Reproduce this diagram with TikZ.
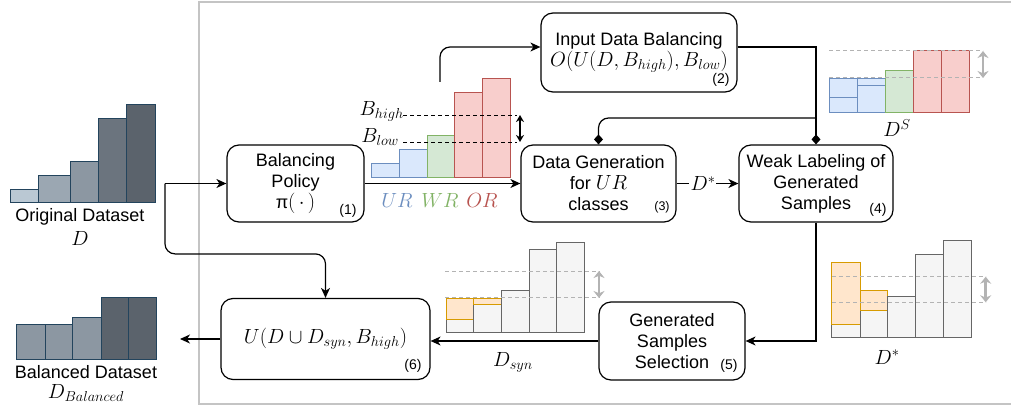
\RequirePackage{fix-cm}
\documentclass[tikz,border=0pt]{standalone}
\usepackage{fontspec}
\setmainfont{Liberation Sans}
\usetikzlibrary{arrows.meta,calc}
\newcommand\mth[1]{\scalebox{1.14}{$#1$}}
\definecolor{odS}{HTML}{23445D}
\definecolor{odA}{HTML}{BAC8D3}
\definecolor{odB}{HTML}{9BA7B2}
\definecolor{odC}{HTML}{8C97A2}
\definecolor{odD}{HTML}{6B747E}
\definecolor{odE}{HTML}{5B636C}
\definecolor{blF}{HTML}{DAE8FC}
\definecolor{blS}{HTML}{6C8EBF}
\definecolor{grF}{HTML}{D5E8D4}
\definecolor{grS}{HTML}{82B366}
\definecolor{rdF}{HTML}{F8CECC}
\definecolor{rdS}{HTML}{B85450}
\definecolor{orF}{HTML}{FFE6CC}
\definecolor{orS}{HTML}{D79B00}
\definecolor{gyF}{HTML}{F5F5F5}
\definecolor{gyS}{HTML}{666666}
\definecolor{frm}{HTML}{C4C4C4}
\definecolor{gdl}{HTML}{B3B3B3}
\begin{document}
\begin{tikzpicture}[x=1pt,y=-1pt,font=\fontsize{18}{21}\selectfont,
  box/.style={draw,line width=1.2pt,rounded corners=12pt,align=center,inner sep=0pt},
  num/.style={font=\fontsize{14}{16}\selectfont,inner sep=0pt},
  lbl/.style={inner sep=0pt},
  conn/.style={line width=1.2pt},
  arr/.style={line width=1.2pt,-{Stealth[length=10pt,width=9pt,inset=3pt]}},
  diam/.style={line width=1.2pt,-{Diamond[length=10pt,width=9pt]}},
  bar/.style={line width=1pt},
  gdash/.style={draw=gdl,line width=1pt,dash pattern=on 4pt off 3pt},
  bdash/.style={draw=black,line width=0.9pt,dash pattern=on 4pt off 3pt},
  garr/.style={draw=gdl,line width=2.5pt,{Stealth[length=7pt,width=11pt]}-{Stealth[length=7pt,width=11pt]}},
  barr/.style={line width=1.3pt,{Stealth[length=7pt,width=8pt]}-{Stealth[length=7pt,width=8pt]}}]
\useasboundingbox (0,0) rectangle (1011,409);
% frame
\draw[frm,line width=1.5pt] (199,2) rectangle (1020,404);

% original dataset bars
\draw[bar,draw=odS,fill=odA] (10,189) rectangle (38,202.7);
\draw[bar,draw=odS,fill=odB] (38,175) rectangle (70,202.7);
\draw[bar,draw=odS,fill=odC] (70,161) rectangle (98,202.7);
\draw[bar,draw=odS,fill=odD] (98,119) rectangle (126,202.7);
\draw[bar,draw=odS,fill=odE] (126,105) rectangle (155,202.7);
\node[lbl] (odtext) at (80,217) {Original Dataset};
\node[lbl] (odD) at (80,238) {\mth{D}};

% balanced dataset bars
\draw[bar,draw=odS,fill=odC] (16.7,324.3) rectangle (45,359);
\draw[bar,draw=odS,fill=odC] (45,324.3) rectangle (72.7,359);
\draw[bar,draw=odS,fill=odC] (72.7,317.3) rectangle (101,359);
\draw[bar,draw=odS,fill=odE] (101,297.7) rectangle (128.3,359);
\draw[bar,draw=odS,fill=odE] (128.3,297.7) rectangle (156.7,359);
\node[lbl] (bdtext) at (86,372) {Balanced Dataset};
\node[lbl] (bdD) at (86,393) {\mth{D_{Balanced}}};

% boxes
\node[box,minimum width=137pt,minimum height=77pt] (b1) at (295.5,183.5) {Balancing\\Policy\\π\mth{(\,\cdot\,)}};
\node[num] (n1) at (348,211) {(1)};
\node[box,minimum width=196pt,minimum height=79pt] (b2) at (639,52.5) {Input Data Balancing\\\mth{O(U(D,B_{high}),B_{low})}};
\node[num] (n2) at (721,80) {(2)};
\node[box,minimum width=155pt,minimum height=77pt] (b3) at (598.5,183.5) {Data Generation\\for \mth{UR}\\classes};
\node[num,font=\fontsize{12.5}{14}\selectfont] (n3) at (662,207) {(3)};
\node[box,minimum width=154pt,minimum height=77pt] (b4) at (816,183.5) {Weak Labeling of\\Generated\\Samples};
\node[num] (n4) at (878,210) {(4)};
\node[box,minimum width=146pt,minimum height=78pt] (b5) at (672,341) {Generated\\Samples\\Selection};
\node[num] (n5) at (729,366) {(5)};
\node[box,minimum width=209pt,minimum height=81pt] (b6) at (325.5,339) {\mth{U(D\cup D_{syn},B_{high})}};
\node[num] (n6) at (413,366) {(6)};

% middle bars (UR/WR/OR)
\draw[bar,draw=blS,fill=blF] (371,163) rectangle (399,177);
\draw[bar,draw=blS,fill=blF] (399,149) rectangle (427,177);
\draw[bar,draw=grS,fill=grF] (427,135) rectangle (454.5,177);
\draw[bar,draw=rdS,fill=rdF] (454.5,93) rectangle (482,177);
\draw[bar,draw=rdS,fill=rdF] (482,79) rectangle (510,177);
\draw[bdash] (403,115) -- (517,115);
\draw[bdash] (403,142) -- (517,142);
\node[lbl,anchor=east] (bh) at (404,111) {\mth{B_{high}}};
\node[lbl,anchor=east] (bl) at (399,137) {\mth{B_{low}}};
\draw[barr] (520,115) -- (520,142);
\node[lbl,text=blS] (ur) at (397,200) {\mth{UR}};
\node[lbl,text=grS] (wr) at (440,200) {\mth{WR}};
\node[lbl,text=rdS] (or) at (482,200) {\mth{OR}};

% D^S bars
\draw[bar,draw=blS,fill=blF] (829,98) rectangle (857,113);
\draw[bar,draw=blS,fill=blF] (829,79) rectangle (857,98);
\draw[bar,draw=blS,fill=blF] (857,86) rectangle (885,113);
\draw[bar,draw=blS,fill=blF] (857,79) rectangle (885,86);
\draw[bar,draw=grS,fill=grF] (885,71) rectangle (913,113);
\draw[bar,draw=rdS,fill=rdF] (913,51) rectangle (941,113);
\draw[bar,draw=rdS,fill=rdF] (941,51) rectangle (969,113);
\draw[gdash] (829,51) -- (983,51);
\draw[gdash] (829,78) -- (983,78);
\draw[garr] (983,51) -- (983,78);
\node[lbl] (ds) at (897,128) {\mth{D^S}};

% D_syn bars
\draw[bar,draw=gyS,fill=gyF] (446.7,319) rectangle (473.3,332.3);
\draw[bar,draw=orS,fill=orF] (446.7,298) rectangle (473.3,319);
\draw[bar,draw=gyS,fill=gyF] (473.3,304.7) rectangle (501.7,332.3);
\draw[bar,draw=orS,fill=orF] (473.3,298) rectangle (501.7,304.7);
\draw[bar,draw=gyS,fill=gyF] (501.7,290.7) rectangle (529.3,332.3);
\draw[bar,draw=gyS,fill=gyF] (529.3,249) rectangle (556.7,332.3);
\draw[bar,draw=gyS,fill=gyF] (556.7,242) rectangle (584.3,332.3);
\draw[gdash] (445,271) -- (600,271);
\draw[gdash] (445,297.7) -- (600,297.7);
\draw[garr] (599,271) -- (599,298);
\node[lbl] (dsyn) at (513,362) {\mth{D_{syn}}};

% D* bars
\draw[bar,draw=gyS,fill=gyF] (831.7,324) rectangle (860,337.7);
\draw[bar,draw=orS,fill=orF] (831.7,262.7) rectangle (860,324);
\draw[bar,draw=gyS,fill=gyF] (860,310) rectangle (887.7,337.7);
\draw[bar,draw=orS,fill=orF] (860,290.7) rectangle (887.7,310);
\draw[bar,draw=gyS,fill=gyF] (887.7,296) rectangle (915.7,337.7);
\draw[bar,draw=gyS,fill=gyF] (915.7,254.3) rectangle (943.3,337.7);
\draw[bar,draw=gyS,fill=gyF] (943.3,240.7) rectangle (971,337.7);
\draw[gdash] (832,276.7) -- (986,276.7);
\draw[gdash] (832,302.3) -- (986,302.3);
\draw[garr] (985.7,276.7) -- (985.7,302.3);
\node[lbl] (dstar) at (887,357) {\mth{D^{*}}};

% connectors
\coordinate (split) at (165,183.5);
\coordinate (up) at (440,82);
\coordinate (j) at (816,118);
\coordinate (out) at (180,339);
\draw[arr] (split) -- (b1.west);
\draw[arr,rounded corners=10pt] (split) |- ($(b6.north)+(0,-44)$) -- (b6.north);
\draw[arr] (b1.east) -- (b3.west);
\draw[arr,rounded corners=10pt] (up) |- (b2.west |- 0,47);
\draw[diam] (b2.east |- 0,47) -| (b4.north);
\draw[diam,rounded corners=10pt] (j) -| (b3.north);
\draw[conn] (b3.east) -- (689,183.5);
\node[lbl] (dlab) at (703,183.5) {\mth{D^{*}}};
\draw[arr] (716,183.5) -- (b4.west);
\draw[arr] (b4.south) |- (b5.east);
\draw[arr] (b5.west) -- (b6.east |- b5.west);
\draw[arr] (b6.west) -- (out);
\end{tikzpicture}
\end{document}
